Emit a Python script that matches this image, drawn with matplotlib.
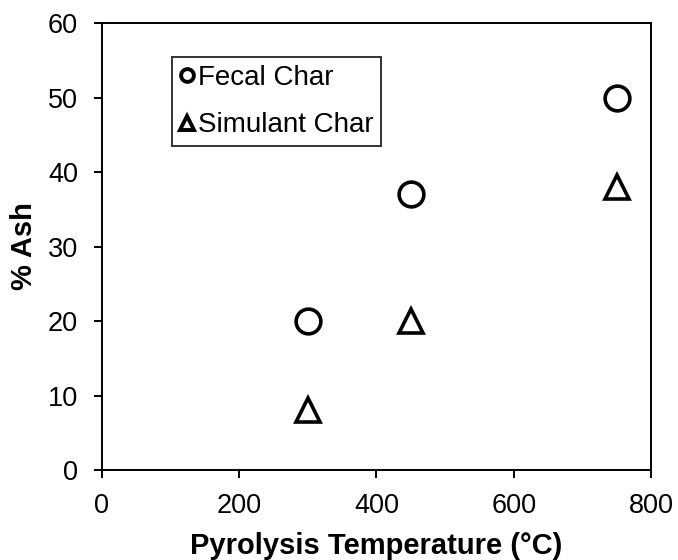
import matplotlib
matplotlib.use("Agg")
import matplotlib.pyplot as plt
from matplotlib.lines import Line2D

plt.rcParams['font.family'] = ['Liberation Sans', 'DejaVu Sans']

temps = [300, 450, 750]
fecal_ash = [20, 37, 50]
simulant_ash = [8, 20, 38]

fig = plt.figure(figsize=(6.78, 5.6), dpi=100)
ax = fig.add_axes([0.1504, 0.1607, 0.8097, 0.7982])

ax.plot(temps, fecal_ash, linestyle='none', marker='o', markersize=17.8,
        markerfacecolor='white', markeredgecolor='black', markeredgewidth=2.6,
        label='Fecal Char')
ax.plot(temps, simulant_ash, linestyle='none', marker='^', markersize=17.5,
        markerfacecolor='white', markeredgecolor='black', markeredgewidth=2.6,
        label='Simulant Char')

ax.set_xlim(0, 800)
ax.set_ylim(0, 60)
ax.set_xticks([0, 200, 400, 600, 800])
ax.set_yticks([0, 10, 20, 30, 40, 50, 60])
ax.tick_params(direction='out', length=5.8, width=1.4, labelsize=19.5)
ax.tick_params(axis='x', pad=11)
ax.tick_params(axis='y', pad=11.5)
for s in ax.spines.values():
    s.set_linewidth(1.4)

ax.set_xlabel('Pyrolysis Temperature (°C)', fontsize=21, fontweight='bold', labelpad=9)
ax.set_ylabel('% Ash', fontsize=21, fontweight='bold', labelpad=7)

handles = [
    Line2D([], [], linestyle='none', marker='o', markersize=9.2, markerfacecolor='white',
           markeredgecolor='black', markeredgewidth=2.8),
    Line2D([], [], linestyle='none', marker='^', markersize=10.5, markerfacecolor='white',
           markeredgecolor='black', markeredgewidth=2.8),
]
leg = ax.legend(handles, ['Fecal Char', 'Simulant Char'], loc='upper left',
                bbox_to_anchor=(0.1275, 0.924), borderaxespad=0, fontsize=20,
                frameon=True, fancybox=False, edgecolor='black', handlelength=0.55,
                handletextpad=0.1, borderpad=0.28, labelspacing=0.78)
leg.get_frame().set_linewidth(1.4)

fig.savefig('out.png', dpi=100)
